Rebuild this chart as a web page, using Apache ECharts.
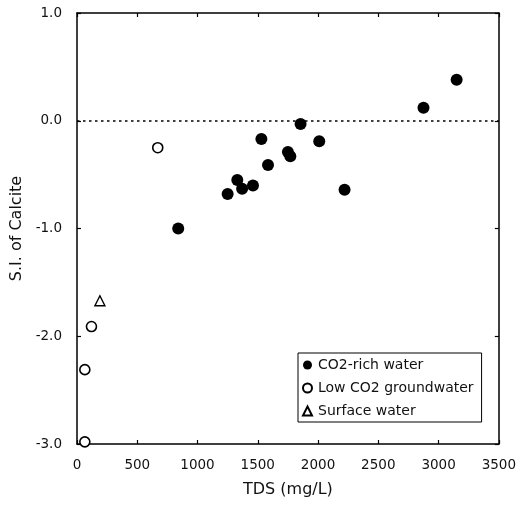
<!DOCTYPE html>
<html>
<head>
<meta charset="utf-8">
<script src="https://cdn.jsdelivr.net/npm/echarts@6/dist/echarts.min.js"></script>
<style>html,body{margin:0;padding:0;background:#fff}#c{width:519px;height:509px}</style>
</head>
<body>
<div id="c"></div>
<script>
// Data
const co2RichTDS = [840, 1250, 1330, 1370, 1460, 1530, 1585, 1750, 1770, 1855, 2010, 2220, 2875, 3150];
const co2RichSI  = [-1.00, -0.68, -0.55, -0.63, -0.60, -0.17, -0.41, -0.29, -0.33, -0.03, -0.19, -0.64, 0.12, 0.38];
const lowCO2TDS = [670, 120, 65, 65];
const lowCO2SI  = [-0.25, -1.91, -2.31, -2.98];
const surfaceTDS = [190];
const surfaceSI  = [-1.67];
const seriesNames = ['CO2-rich water', 'Low CO2 groundwater', 'Surface water'];
const xTicks = [0, 500, 1000, 1500, 2000, 2500, 3000, 3500];
const yTicks = [-3.0, -2.0, -1.0, 0.0, 1.0];
const xTitle = 'TDS (mg/L)';
const yTitle = 'S.I. of Calcite';

const FONT = 'DejaVu Sans';
const pair = (xs, ys) => xs.map((x, i) => [x, ys[i]]);

const chart = echarts.init(document.getElementById('c'), null, {renderer: 'canvas'});
const axisLine = {show: true, onZero: false, lineStyle: {color: '#000', width: 1.5}};
const axisTick = {show: true, inside: true, length: 4, lineStyle: {color: '#000', width: 1.2}};
const xMin = xTicks[0], xMax = xTicks[xTicks.length - 1];
const yMin = yTicks[0], yMax = yTicks[yTicks.length - 1];

chart.setOption({
  animation: false,
  backgroundColor: '#fff',
  grid: {left: 77, right: 17, top: 13, bottom: 65, containLabel: false},
  xAxis: [{
    type: 'value', min: xMin, max: xMax, interval: xTicks[1] - xTicks[0],
    axisLine, axisTick, splitLine: {show: false},
    axisLabel: {margin: 14, color: '#111', fontFamily: FONT, fontSize: 13.5, formatter: v => String(v)},
    name: xTitle, nameLocation: 'middle', nameGap: 38,
    nameTextStyle: {color: '#111', fontFamily: FONT, fontSize: 16}
  }, {
    type: 'value', position: 'top', min: xMin, max: xMax, interval: xTicks[1] - xTicks[0],
    axisLine, axisTick, axisLabel: {show: false}, splitLine: {show: false}
  }],
  yAxis: [{
    type: 'value', min: yMin, max: yMax, interval: yTicks[1] - yTicks[0],
    axisLine, axisTick, splitLine: {show: false},
    axisLabel: {margin: 15, color: '#111', fontFamily: FONT, fontSize: 13.5, formatter: v => v.toFixed(1)},
    name: yTitle, nameLocation: 'middle', nameGap: 45,
    nameTextStyle: {color: '#111', fontFamily: FONT, fontSize: 16}
  }, {
    type: 'value', position: 'right', min: yMin, max: yMax, interval: yTicks[1] - yTicks[0],
    axisLine, axisTick, axisLabel: {show: false}, splitLine: {show: false}
  }],
  legend: {
    orient: 'vertical', left: 298, top: 353,
    backgroundColor: '#fff',
    borderColor: '#000', borderWidth: 1,
    padding: [5, 8, 4, 4],
    itemWidth: 9, itemHeight: 9, itemGap: 9,
    textStyle: {color: '#111', fontFamily: FONT, fontSize: 14, lineHeight: 14, padding: [0, 0, 0, 1]},
    data: [
      {name: seriesNames[0], icon: 'circle'},
      {name: seriesNames[1], icon: 'circle'},
      {name: seriesNames[2], icon: 'triangle'}
    ]
  },
  series: [{
    name: seriesNames[0], type: 'scatter', symbol: 'circle', symbolSize: 12,
    itemStyle: {color: '#000', opacity: 1},
    data: pair(co2RichTDS, co2RichSI), z: 5,
    markLine: {
      silent: true, symbol: 'none', label: {show: false},
      lineStyle: {color: '#000', width: 1.5, type: [2.5, 3.5]},
      data: [{yAxis: 0}]
    }
  }, {
    name: seriesNames[1], type: 'scatter', symbol: 'circle', symbolSize: 10,
    itemStyle: {color: '#fff', borderColor: '#000', borderWidth: 1.6, opacity: 1},
    data: pair(lowCO2TDS, lowCO2SI), z: 5
  }, {
    name: seriesNames[2], type: 'scatter', symbol: 'triangle', symbolSize: 10,
    itemStyle: {color: '#fff', borderColor: '#000', borderWidth: 1.4, opacity: 1},
    data: pair(surfaceTDS, surfaceSI), z: 5
  }]
});
</script>
</body>
</html>
